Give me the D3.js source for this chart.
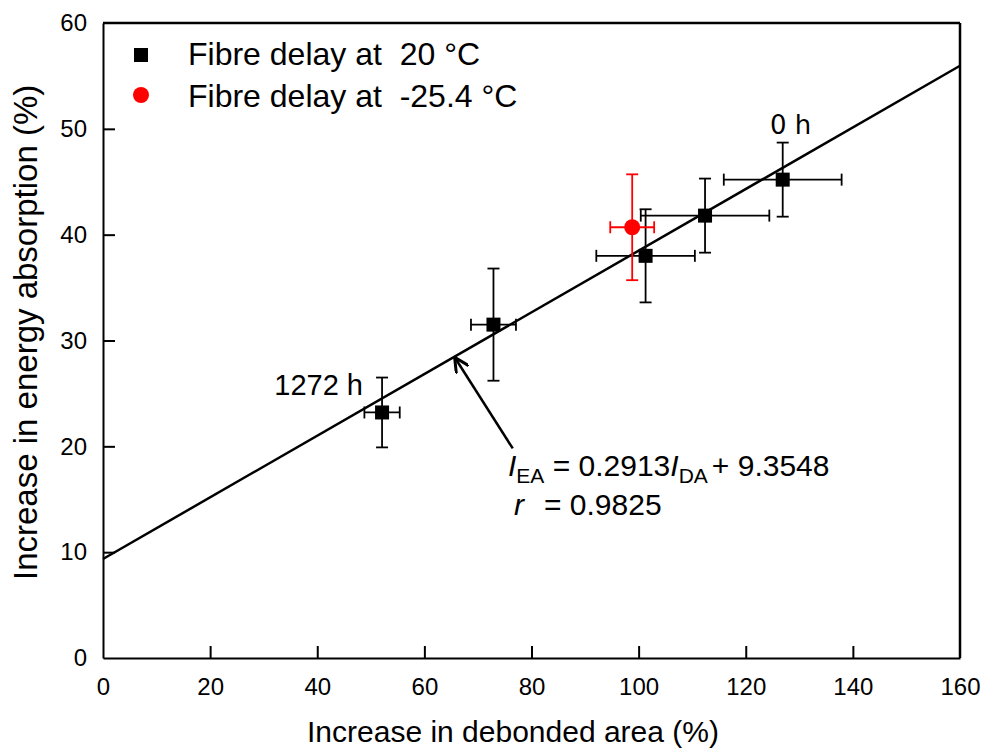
<!DOCTYPE html>
<html>
<head>
<meta charset="utf-8">
<script src="https://cdn.jsdelivr.net/npm/d3@7"></script>
<style>
  body { margin: 0; background: #fff; }
  text { font-family: "Liberation Sans", Arial, sans-serif; fill: #000; }
</style>
</head>
<body>
<div id="chart"></div>
<script>
// data
const debondedArea = [52.1, 72.9, 101.3, 112.4, 126.9];
const energyAbs    = [23.2, 31.5, 38.0, 41.8, 45.2];
const xErr         = [3.3, 4.2, 9.2, 12.0, 11.0];
const yErr         = [3.3, 5.3, 4.4, 3.5, 3.5];

const coldX = [98.8];
const coldY = [40.7];
const coldXErr = [4.1];
const coldYErr = [5.0];

const fitSlope = 0.2913;
const fitIntercept = 9.3548;

const xTicks = [0, 20, 40, 60, 80, 100, 120, 140, 160];
const yTicks = [0, 10, 20, 30, 40, 50, 60];

const legendLabels = ["Fibre delay at  20 °C", "Fibre delay at  -25.4 °C"];

const margin = {top: 23, right: 28, bottom: 93, left: 103};
const W = 988, H = 751;
const width = W - margin.left - margin.right;
const height = H - margin.top - margin.bottom;

const svg = d3.select("#chart").append("svg")
  .attr("width", W)
  .attr("height", H);

const g = svg.append("g")
  .attr("transform", "translate(" + margin.left + "," + margin.top + ")");

const x = d3.scaleLinear().domain([0, 160]).range([0, width]);
const y = d3.scaleLinear().domain([0, 60]).range([height, 0]);

// axes, ticks pointing inward
const xAxis = d3.axisBottom(x).tickValues(xTicks).tickSize(-12).tickSizeOuter(0).tickPadding(20);
const yAxis = d3.axisLeft(y).tickValues(yTicks).tickSize(-12).tickSizeOuter(0).tickPadding(16);

const xg = g.append("g").attr("transform", "translate(0," + height + ")").call(xAxis);
const yg = g.append("g").call(yAxis);
[xg, yg].forEach(a => {
  a.selectAll("path, line").attr("stroke", "#000").attr("stroke-width", 2);
  a.selectAll("text").style("font-size", "24px").attr("fill", "#000");
  a.attr("font-family", null);
});
xg.selectAll(".tick").filter(d => d === 0 || d === 160).select("line").remove();
yg.selectAll(".tick").filter(d => d === 0 || d === 60).select("line").remove();

// frame top & right
g.append("line").attr("x1", 0).attr("x2", width).attr("y1", 0).attr("y2", 0)
  .attr("stroke", "#000").attr("stroke-width", 2.5);
g.append("line").attr("x1", width).attr("x2", width).attr("y1", 0).attr("y2", height)
  .attr("stroke", "#000").attr("stroke-width", 2.5);

// axis titles
svg.append("text")
  .attr("x", 513).attr("y", 742)
  .attr("text-anchor", "middle")
  .style("font-size", "30px")
  .text("Increase in debonded area (%)");

svg.append("text")
  .attr("transform", "translate(37,580) rotate(-90)")
  .attr("text-anchor", "start")
  .style("font-size", "33px")
  .text("Increase in energy absorption (%)");

// fitted line
g.append("line")
  .attr("x1", x(0)).attr("y1", y(fitIntercept))
  .attr("x2", x(160)).attr("y2", y(fitSlope * 160 + fitIntercept))
  .attr("stroke", "#000").attr("stroke-width", 2.5);

// error bars
function errorBars(xs, ys, xe, ye, color) {
  const pts = xs.map((v, i) => ({x: v, y: ys[i], xe: xe[i], ye: ye[i]}));
  const eb = g.append("g").attr("stroke", color).attr("stroke-width", 1.8);
  const cap = 6;
  pts.forEach(p => {
    eb.append("line").attr("x1", x(p.x)).attr("x2", x(p.x)).attr("y1", y(p.y - p.ye)).attr("y2", y(p.y + p.ye));
    eb.append("line").attr("x1", x(p.x) - cap).attr("x2", x(p.x) + cap).attr("y1", y(p.y - p.ye)).attr("y2", y(p.y - p.ye));
    eb.append("line").attr("x1", x(p.x) - cap).attr("x2", x(p.x) + cap).attr("y1", y(p.y + p.ye)).attr("y2", y(p.y + p.ye));
    eb.append("line").attr("x1", x(p.x - p.xe)).attr("x2", x(p.x + p.xe)).attr("y1", y(p.y)).attr("y2", y(p.y));
    eb.append("line").attr("x1", x(p.x - p.xe)).attr("x2", x(p.x - p.xe)).attr("y1", y(p.y) - cap).attr("y2", y(p.y) + cap);
    eb.append("line").attr("x1", x(p.x + p.xe)).attr("x2", x(p.x + p.xe)).attr("y1", y(p.y) - cap).attr("y2", y(p.y) + cap);
  });
}
errorBars(debondedArea, energyAbs, xErr, yErr, "#000");
errorBars(coldX, coldY, coldXErr, coldYErr, "#ff0000");

// markers
g.selectAll(".sq")
  .data(debondedArea)
  .join("rect")
    .attr("class", "sq")
    .attr("x", d => x(d) - 7)
    .attr("y", (d, i) => y(energyAbs[i]) - 7)
    .attr("width", 14).attr("height", 14)
    .attr("fill", "#000");

g.selectAll(".dot")
  .data(coldX)
  .join("circle")
    .attr("class", "dot")
    .attr("cx", d => x(d))
    .attr("cy", (d, i) => y(coldY[i]))
    .attr("r", 8)
    .attr("fill", "#ff0000");

// legend
svg.append("rect").attr("x", 134).attr("y", 48).attr("width", 14).attr("height", 14).attr("fill", "#000");
svg.append("circle").attr("cx", 141).attr("cy", 95).attr("r", 8).attr("fill", "#ff0000");
svg.selectAll(".legtext")
  .data(legendLabels)
  .join("text")
    .attr("class", "legtext")
    .attr("x", 188)
    .attr("y", (d, i) => 65 + i * 42)
    .style("font-size", "32px")
    .style("white-space", "pre")
    .attr("xml:space", "preserve")
    .text(d => d);

// point annotations
svg.append("text").attr("x", 363).attr("y", 395).attr("text-anchor", "end")
  .style("font-size", "29px").text("1272 h");
svg.append("text").attr("x", 770).attr("y", 134)
  .style("font-size", "26px").style("font-family", "'DejaVu Sans', sans-serif").text("0 h");

// arrow to the fitted line
svg.append("defs").append("marker")
  .attr("id", "arrowhead")
  .attr("viewBox", "0 0 10 10")
  .attr("refX", 9).attr("refY", 5)
  .attr("markerWidth", 6).attr("markerHeight", 6)
  .attr("orient", "auto")
  .append("path").attr("d", "M0,0 L10,5 L0,10").attr("fill", "none").attr("stroke", "#000").attr("stroke-width", 2);

g.append("line")
  .attr("x1", x(76.5)).attr("y1", y(19.8))
  .attr("x2", x(65.8)).attr("y2", y(28.3))
  .attr("stroke", "#000").attr("stroke-width", 2.5)
  .attr("marker-end", "url(#arrowhead)");

// equation
const eq = svg.append("text").attr("x", 508).attr("y", 476).style("font-size", "30px");
eq.append("tspan").style("font-style", "italic").text("I");
eq.append("tspan").attr("dy", 7).style("font-size", "21px").text("EA");
eq.append("tspan").attr("dy", -7).text(" = 0.2913");
eq.append("tspan").style("font-style", "italic").text("I");
eq.append("tspan").attr("dy", 7).style("font-size", "21px").text("DA");
eq.append("tspan").attr("dy", -7).attr("dx", 4).text("+ 9.3548");

const eq2 = svg.append("text").attr("x", 514).attr("y", 515).style("font-size", "30px");
eq2.append("tspan").style("font-style", "italic").text("r");
eq2.append("tspan").attr("x", 544).text("= 0.9825");
</script>
</body>
</html>
